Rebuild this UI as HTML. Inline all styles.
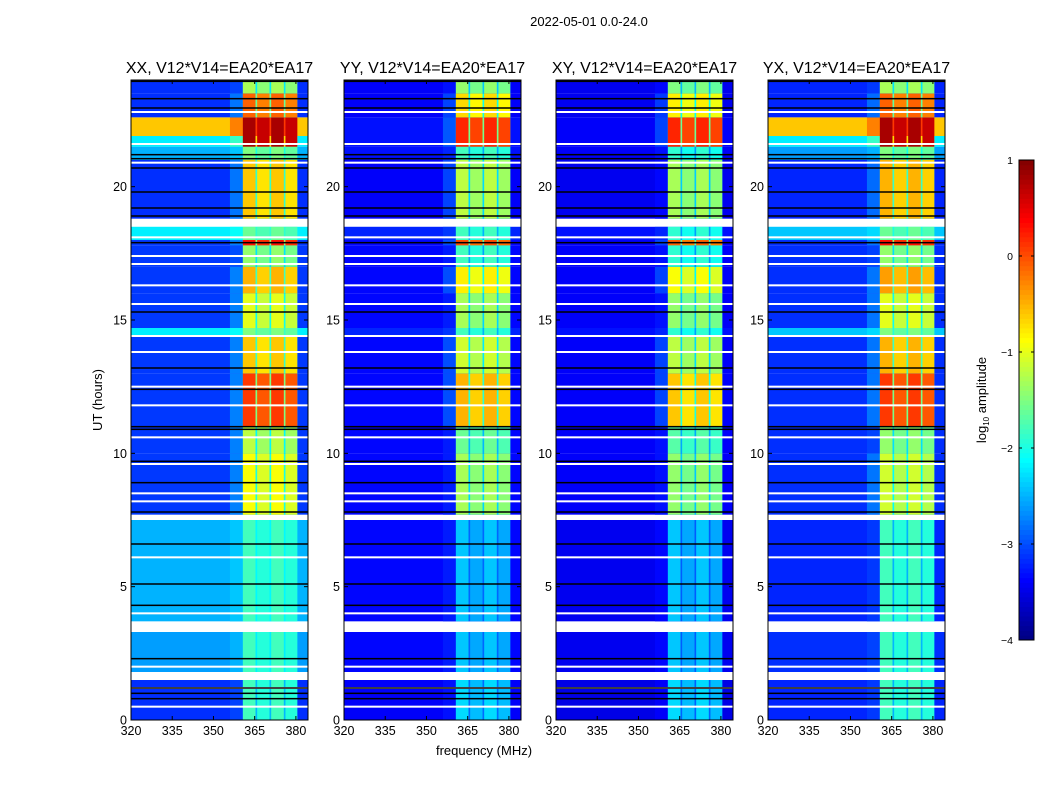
<!DOCTYPE html>
<html><head><meta charset="utf-8"><style>
body{margin:0;background:#fff;}
svg text{font-family:"Liberation Sans",sans-serif;fill:#000;}
</style></head><body>
<svg id="fig" width="1050" height="800" xmlns="http://www.w3.org/2000/svg">
<rect width="1050" height="800" fill="#fff"/>
<text x="589" y="26" font-size="13" text-anchor="middle">2022-05-01 0.0-24.0</text>
<text transform="translate(102,400) rotate(-90)" font-size="13" text-anchor="middle">UT (hours)</text>
<text x="484" y="755" font-size="13" text-anchor="middle">frequency (MHz)</text>
<g id="panels"></g>
<g id="cbar"></g>
<text transform="translate(986,400) rotate(-90)" font-size="13" text-anchor="middle">log<tspan font-size="8" dy="3">10</tspan><tspan dy="-3"> amplitude</tspan></text>
</svg>
<script>
// ---- data ----
const titles = ["XX, V12*V14=EA20*EA17","YY, V12*V14=EA20*EA17","XY, V12*V14=EA20*EA17","YX, V12*V14=EA20*EA17"];
const edges = [0,1.5,1.8,3.3,3.7,7.5,7.7,10,11,13,14.4,14.7,16,17,17.8,18,18.5,18.8,21,21.5,21.9,22.6,23.5,24];
const F = null;
const bgXX   = [-3.15,F,-2.6,F,-2.5,F,-3.1,-3.1,-3.1,-3.1,-2.2,-3.1,-3.1,-3.1,-3.1,-2.2,F,-3.15,-2.5,-2.2,-0.6,-3.15,-3.15];
const bandXX = [-1.8,F,-1.8,F,-1.8,F,-0.9,-1.2,0.1,-0.6,-1.5,-1.0,-0.5,-1.4,0.3,-1.6,F,-0.6,-1.5,0.8,0.8,-0.1,-1.3];
const bgYY   = [-3.4,F,-3.35,F,-3.35,F,-3.35,-3.35,-3.35,-3.35,-3.2,-3.35,-3.35,-3.35,-3.35,-3.2,F,-3.4,-3.3,-3.3,-3.3,-3.4,-3.4];
const bandYY = [-2.3,F,-2.4,F,-2.4,F,-1.3,-1.6,-0.5,-1.1,-1.8,-1.3,-0.8,-1.8,0.0,-1.8,F,-1.2,-1.8,0.2,0.2,-0.7,-1.4];
const bgXY   = [-3.5,F,-3.45,F,-3.45,F,-3.4,-3.4,-3.4,-3.4,-3.3,-3.4,-3.4,-3.4,-3.4,-3.3,F,-3.45,-3.4,-3.4,-3.4,-3.45,-3.45];
const bandXY = [-2.3,F,-2.4,F,-2.4,F,-1.4,-1.7,-0.6,-1.2,-1.9,-1.4,-0.9,-1.9,-0.1,-1.9,F,-1.3,-1.9,0.2,0.2,-0.8,-1.5];
const bgYX   = [-3.2,F,-3.15,F,-3.2,F,-3.15,-3.15,-3.15,-3.15,-2.4,-3.15,-3.15,-3.15,-3.15,-2.4,F,-3.2,-2.6,-2.2,-0.6,-3.2,-3.2];
const bandYX = [-1.8,F,-1.8,F,-1.8,F,-1.1,-1.4,0.1,-0.5,-1.5,-1.0,-0.4,-1.4,0.3,-1.6,F,-0.5,-1.5,0.8,0.8,-0.1,-1.3];
const bgs = [bgXX,bgYY,bgXY,bgYX];
const bands = [bandXX,bandYY,bandXY,bandYX];
const subbands = [[360.7,365.3],[365.9,370.4],[371.0,375.6],[376.2,380.5]];
const whiteLines = [0.5,1.2,2.0,4.0,6.1,8.2,8.5,9.6,10.6,11.8,12.5,13.8,14.4,15.6,16.3,17.1,17.4,18.1,20.9,21.6,22.8];
const blackLines = [0.8,1.0,1.2,2.3,4.3,5.1,6.6,7.8,8.9,9.7,10.9,11.0,12.4,13.2,15.3,17.9,18.9,19.2,19.8,20.7,21.05,21.2,22.95,23.3,23.95];
const xTicks = [320,335,350,365,380];
const yTicks = [0,5,10,15,20];
const cbTicks = [1,0,-1,-2,-3,-4];
// ---- helpers ----
const NS="http://www.w3.org/2000/svg";
const panelX=[131,344,556,768], PW=177, PT=80, PB=720;
const FMIN=320, FMAX=384.4, HMIN=0, HMAX=24, VMIN=-4, VMAX=1;
function jet(v){let t=(v-VMIN)/(VMAX-VMIN);t=Math.max(0,Math.min(1,t));
 const f=(x)=>Math.max(0,Math.min(1,1.5-Math.abs(4*t-x)));
 return `rgb(${Math.round(255*f(3))},${Math.round(255*f(2))},${Math.round(255*f(1))})`;}
function mk(tag,attrs,parent){const e=document.createElementNS(NS,tag);for(const k in attrs)e.setAttribute(k,attrs[k]);parent.appendChild(e);return e;}
const G=document.getElementById('panels');
for(let p=0;p<4;p++){
 const x0=panelX[p];
 const xs=f=>x0+(f-FMIN)/(FMAX-FMIN)*PW;
 const ys=h=>PB-(h-HMIN)/(HMAX-HMIN)*(PB-PT);
 const g=mk('g',{},G);
 
 
 const t=mk('text',{x:x0+PW/2,y:73,'font-size':16,'text-anchor':'middle'},g);
 t.textContent=titles[p];
 
 
 for(let i=0;i<edges.length-1;i++){
  const y1=ys(edges[i+1]), y2=ys(edges[i]);
  const bg=bgs[p][i], bd=bands[p][i];
  if(bg===null){const r=mk('rect',{x:x0,y:y1,width:PW,height:y2-y1,fill:'#fff'},g);
   
   continue;}
  const r=mk('rect',{x:x0,y:y1,width:PW,height:y2-y1,fill:jet(bg)},g);
  
  
  const sh=mk('rect',{x:xs(356),y:y1,width:xs(subbands[0][0])-xs(356),height:y2-y1,fill:jet(bg+(bd>-1.3?0.35:0.1))},g);
  
  
  const gp=mk('rect',{x:xs(subbands[0][0]),y:y1,width:xs(subbands[3][1])-xs(subbands[0][0]),height:y2-y1,fill:jet((bg+bd)/2)},g);
  
  
  subbands.forEach((sb,k)=>{
   const c=mk('rect',{x:xs(sb[0]),y:y1,width:xs(sb[1])-xs(sb[0]),height:y2-y1,fill:jet(bd-(k%2)*0.15)},g);
   
   
  });
 }
 whiteLines.forEach(h=>{const l=mk('rect',{x:x0,y:ys(h)-1,width:PW,height:2,fill:'#fff'},g);
  
  });
 blackLines.forEach(h=>{const l=mk('rect',{x:x0,y:ys(h)-0.75,width:PW,height:1.5,fill:'#000'},g);
  
  });
 const fr=mk('rect',{x:x0,y:PT,width:PW,height:PB-PT,fill:'none',stroke:'#000','stroke-width':1},g);
 
 
 xTicks.forEach(v=>{const x=xs(v);
  mk('line',{x1:x,x2:x,y1:PB,y2:PB-4,stroke:'#000'},g);mk('line',{x1:x,x2:x,y1:PT,y2:PT+4,stroke:'#000'},g);
  const tl=mk('text',{x:x,y:PB+15,'font-size':12.5,'text-anchor':'middle'},g);tl.textContent=v;
  
  });
 yTicks.forEach(v=>{const y=ys(v);
  mk('line',{x1:x0,x2:x0+4,y1:y,y2:y,stroke:'#000'},g);mk('line',{x1:x0+PW,x2:x0+PW-4,y1:y,y2:y,stroke:'#000'},g);
  const tl=mk('text',{x:x0-4,y:y+4.5,'font-size':12.5,'text-anchor':'end'},g);tl.textContent=v;
  
  });
}
// colorbar
const C=document.getElementById('cbar');
const CX=1019,CW=15,CT=160,CB=640;
const cys=v=>CB-(v-VMIN)/(VMAX-VMIN)*(CB-CT);
for(let i=0;i<100;i++){const v0=VMIN+i*(VMAX-VMIN)/100,v1=v0+(VMAX-VMIN)/100;
 const r=mk('rect',{x:CX,y:cys(v1),width:CW,height:cys(v0)-cys(v1)+0.5,fill:jet((v0+v1)/2)},C);
 
 }
mk('rect',{x:CX,y:CT,width:CW,height:CB-CT,fill:'none',stroke:'#000'},C);
cbTicks.forEach(v=>{const y=cys(v);
 mk('line',{x1:CX,x2:CX+3,y1:y,y2:y,stroke:'#000'},C);mk('line',{x1:CX+CW,x2:CX+CW-3,y1:y,y2:y,stroke:'#000'},C);
 const tl=mk('text',{x:CX-6,y:y+4,'font-size':10.5,'text-anchor':'end'},C);tl.textContent=(v<0?'\u2212'+(-v):v);
 
 });
</script>
</body></html>
